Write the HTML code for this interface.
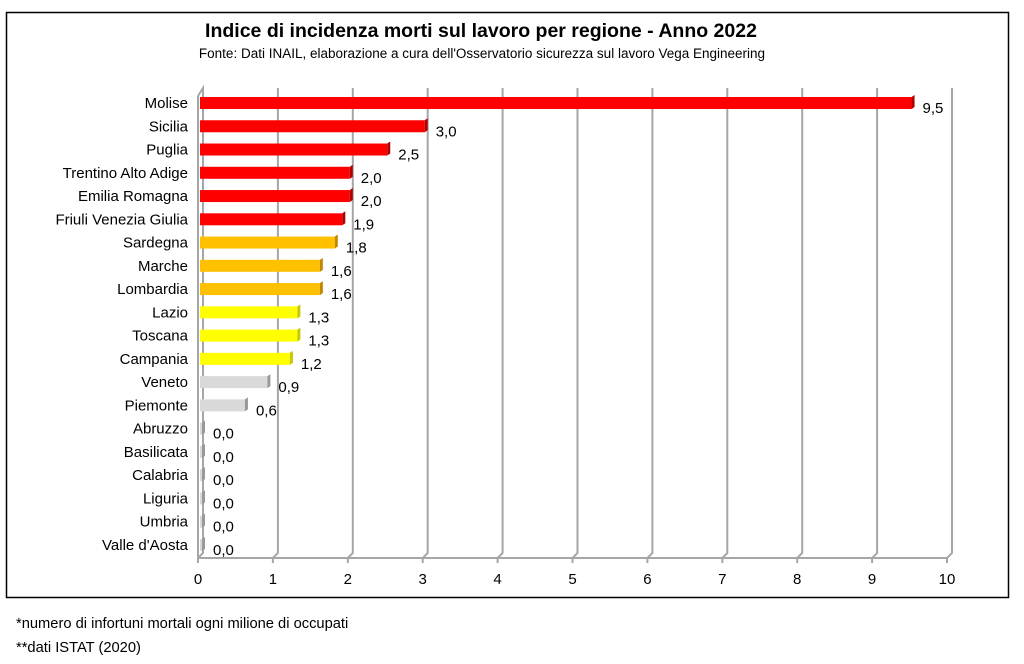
<!DOCTYPE html>
<html><head><meta charset="utf-8"><style>
body{margin:0;background:#fff;width:1024px;height:664px;overflow:hidden}
svg{position:absolute;left:0;top:0}
text{font-family:"Liberation Sans",sans-serif}
</style></head><body>
<svg width="1024" height="664" xmlns="http://www.w3.org/2000/svg">
<rect x="6.5" y="12.5" width="1002" height="585" fill="#fff" stroke="#000" stroke-width="1.5"/>
<text x="481" y="37" text-anchor="middle" font-size="19.5" font-weight="bold">Indice di incidenza morti sul lavoro per regione - Anno 2022</text>
<text x="482" y="58" text-anchor="middle" font-size="13.5">Fonte: Dati INAIL, elaborazione a cura dell'Osservatorio sicurezza sul lavoro Vega Engineering</text>
<g stroke="#a6a6a6" stroke-width="2" fill="none" id="grid"></g>
<g id="bars"></g>
<text x="16" y="628" font-size="14.7">*numero di infortuni mortali ogni milione di occupati</text>
<text x="16" y="652" font-size="14.7">**dati ISTAT (2020)</text>
</svg>
<script>
var ns="http://www.w3.org/2000/svg",svg=document.querySelector('svg'),g=document.getElementById('grid'),b=document.getElementById('bars');
function el(t,a,p){var e=document.createElementNS(ns,t);for(var k in a)e.setAttribute(k,a[k]);(p||svg).appendChild(e);return e}
var x0=198,s=74.9;
for(var i=0;i<=10;i++){var x=x0+i*s;
el('path',{d:'M'+(x+5)+' 88 L'+(x+5)+' 553 L'+x+' 558 L'+x+' 563'},g);
var t=el('text',{x:x,y:584,'text-anchor':'middle','font-size':15});t.textContent=i;}
el('path',{d:'M'+x0+' 558 L'+(x0+10*s)+' 558'},g);
el('path',{d:'M'+x0+' 96 L'+(x0+5)+' 88 L'+(x0+5)+' 553 M'+x0+' 96 L'+x0+' 558'},g);
var d=[["Molise",9.5,"#ff0000"],["Sicilia",3.0,"#ff0000"],["Puglia",2.5,"#ff0000"],["Trentino Alto Adige",2.0,"#ff0000"],["Emilia Romagna",2.0,"#ff0000"],["Friuli Venezia Giulia",1.9,"#ff0000"],["Sardegna",1.8,"#ffc000"],["Marche",1.6,"#ffc000"],["Lombardia",1.6,"#ffc000"],["Lazio",1.3,"#ffff00"],["Toscana",1.3,"#ffff00"],["Campania",1.2,"#ffff00"],["Veneto",0.9,"#d9d9d9"],["Piemonte",0.6,"#d9d9d9"],["Abruzzo",0,"#d9d9d9"],["Basilicata",0,"#d9d9d9"],["Calabria",0,"#d9d9d9"],["Liguria",0,"#d9d9d9"],["Umbria",0,"#d9d9d9"],["Valle d'Aosta",0,"#d9d9d9"]];
d.forEach(function(r,i){var y=103+i*23.26;var w=Math.max(2,r[1]*s);
var dark=r[2]=="#ff0000"?"#b00000":r[2]=="#ffc000"?"#c08800":r[2]=="#ffff00"?"#c8c800":"#999";
el('rect',{x:200,y:y-6,width:w,height:12,fill:r[2]},b);
el('path',{d:'M'+(200+w)+' '+(y-6)+' l3 -2 l0 12 l-3 2 z',fill:dark},b);
var t=el('text',{x:188,y:y+5,'text-anchor':'end','font-size':15});t.textContent=r[0];
var v=el('text',{x:200+w+11,y:y+10,'font-size':15});v.textContent=r[1].toFixed(1).replace('.',',');});
</script>
</body></html>
